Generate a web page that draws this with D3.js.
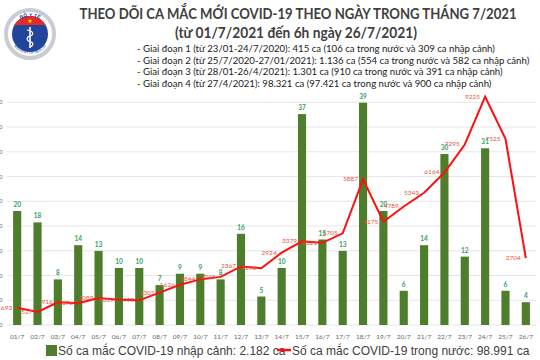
<!DOCTYPE html>
<html><head><meta charset="utf-8">
<script src="https://cdn.jsdelivr.net/npm/d3@7"></script>
<style>body{margin:0;background:#fff;} svg{display:block;}</style>
</head><body><svg id="c" width="540" height="360"></svg>
<script>
const days = ["01/7","02/7","03/7","04/7","05/7","06/7","07/7","08/7","09/7","10/7","11/7","12/7","13/7","14/7","15/7","16/7","17/7","18/7","19/7","20/7","21/7","22/7","23/7","24/7","25/7","26/7"];
const imported = [20,18,8,14,13,10,10,7,9,9,8,16,5,10,37,15,13,39,20,6,14,30,12,31,6,4];
const domestic = [693,527,916,876,1089,1019,997,1307,1626,1844,1945,2367,2296,2924,3379,3321,3705,5887,4175,4789,5343,6164,7295,9225,7525,2704];
const gridTicks = [0,1000,2000,3000,4000,5000,6000,7000,8000,9000];
const titleLines = ["THEO DÕI CA MẮC MỚI COVID-19 THEO NGÀY TRONG THÁNG 7/2021","(từ 01/7/2021 đến 6h ngày 26/7/2021)"];
const phaseLines = [
 "- Giai đoạn 1 (từ 23/01-24/7/2020): 415 ca (106 ca trong nước và 309 ca nhập cảnh)",
 "- Giai đoạn 2 (từ 25/7/2020-27/01/2021): 1.136 ca (554 ca trong nước và 582 ca nhập cảnh)",
 "- Giai đoạn 3 (từ 28/01-26/4/2021): 1.301 ca (910 ca trong nước và 391 ca nhập cảnh)",
 "- Giai đoạn 4 (từ 27/4/2021): 98.321 ca (97.421 ca trong nước và 900 ca nhập cảnh)"];
const legendLabels = ["Số ca mắc COVID-19 nhập cảnh: 2.182 ca","Số ca mắc COVID-19 trong nước: 98.991 ca"];

const svg = d3.select("#c");
const green = "#4e7d2b", red = "#ff1010", lblGreen = "#2fa35f", lblRed = "#e8553c";

const x = d3.scaleBand().domain(days).range([7,536]).paddingInner(0.6).paddingOuter(0.3);
const yLine = d3.scaleLinear().domain([0,9000]).range([325,102.3]);
const yBar = d3.scaleLinear().domain([0,39]).range([325,102.7]);
const cx = d => x(d) + x.bandwidth()/2;

// gridlines
svg.append("g").selectAll("line").data(gridTicks).join("line")
  .attr("x1",7).attr("x2",536).attr("y1",d=>yLine(d)).attr("y2",d=>yLine(d))
  .attr("stroke","#e6e6e6").attr("stroke-width",1);
// cut-off tick labels at left edge
svg.append("g").selectAll("text").data(gridTicks).join("text")
  .attr("x",2.5).attr("y",d=>yLine(d)).attr("dy","0.35em").attr("text-anchor","end")
  .attr("font-family","Liberation Sans, Arial").attr("font-size",6).attr("fill","#777").text(d=>d);

// bars
svg.append("g").selectAll("rect").data(imported).join("rect")
  .attr("x",(d,i)=>x(days[i])).attr("width",x.bandwidth())
  .attr("y",d=>yBar(d)).attr("height",d=>yBar(0)-yBar(d)).attr("fill",green);
svg.append("g").selectAll("text").data(imported).join("text")
  .attr("x",(d,i)=>cx(days[i])).attr("y",d=>yBar(d)-4).attr("text-anchor","middle")
  .attr("font-family","Lato, Liberation Sans").attr("font-size",6.5).attr("font-weight","bold")
  .attr("fill",lblGreen).text(d=>d);

// line
const line = d3.line().x((d,i)=>cx(days[i])).y(d=>yLine(d));
svg.append("path").datum(domestic).attr("d",line).attr("fill","none")
  .attr("stroke",red).attr("stroke-width",2).attr("stroke-linejoin","miter");
svg.append("g").selectAll("text").data(domestic).join("text")
  .attr("x",(d,i)=>cx(days[i])-5).attr("y",d=>yLine(d)).attr("dy","0.3em").attr("text-anchor","end")
  .attr("font-family","Lato, Liberation Sans").attr("font-size",6.5)
  .attr("fill",lblRed).text(d=>d);

// x axis labels
svg.append("g").selectAll("text").data(days).join("text")
  .attr("x",d=>cx(d)).attr("y",339).attr("text-anchor","middle")
  .attr("font-family","Lato, Liberation Sans").attr("font-size",6.5).attr("fill","#666").text(d=>d);

// titles
svg.append("text").attr("x",298).attr("y",19).attr("text-anchor","middle")
  .attr("font-family","Lato").attr("font-weight","bold").attr("font-size",15.5)
  .attr("fill","#404040").attr("textLength",437).attr("lengthAdjust","spacingAndGlyphs").text(titleLines[0]);
svg.append("text").attr("x",296).attr("y",38).attr("text-anchor","middle")
  .attr("font-family","Lato").attr("font-weight","bold").attr("font-size",15.5)
  .attr("fill","#404040").attr("textLength",242).attr("lengthAdjust","spacingAndGlyphs").text(titleLines[1]);
svg.append("g").selectAll("text").data(phaseLines).join("text")
  .attr("x",137).attr("y",(d,i)=>52+i*11.5)
  .attr("font-family","Lato").attr("font-size",9.6).attr("fill","#1a1a1a").text(d=>d);

// legend
svg.append("rect").attr("x",46).attr("y",345).attr("width",11).attr("height",11).attr("fill",green);
svg.append("text").attr("x",58).attr("y",355).attr("font-family","Liberation Sans, Arial")
  .attr("font-size",12).attr("fill","#404040").text(legendLabels[0]);
svg.append("line").attr("x1",277).attr("x2",291).attr("y1",350).attr("y2",350).attr("stroke",red).attr("stroke-width",2.5);
svg.append("text").attr("x",292).attr("y",355).attr("font-family","Liberation Sans, Arial")
  .attr("font-size",12).attr("fill","#404040").text(legendLabels[1]);

// logo
const lg = svg.append("g").attr("transform","translate(30,34)");
lg.append("circle").attr("r",24).attr("fill","#fff").attr("stroke","#c9ccd6").attr("stroke-width",4);
lg.append("defs").append("clipPath").attr("id","lc").append("circle").attr("r",18);
lg.append("circle").attr("r",18).attr("fill","#21459a");
lg.append("rect").attr("x",-20).attr("y",-20).attr("width",40).attr("height",11).attr("fill","#e52a2a").attr("clip-path","url(#lc)");
lg.append("path").attr("d",d3.symbol(d3.symbolStar,8)()).attr("transform","translate(0,-13)").attr("fill","#ffd700");
lg.append("line").attr("x1",0).attr("x2",0).attr("y1",-7).attr("y2",14).attr("stroke","#fff").attr("stroke-width",1.6);
lg.append("path").attr("d","M-3,-4 C4,-3 4,1 0,2 C-4,3 -4,7 1,8 C4,9 3,12 0,13").attr("fill","none").attr("stroke","#fff").attr("stroke-width",1.2);
lg.append("path").attr("id","arcTop").attr("d","M-15,-10 A19,19 0 0,1 15,-10").attr("fill","none");
lg.append("text").attr("font-size",5).attr("font-weight","bold").attr("fill","#21459a").attr("font-family","Liberation Sans")
  .append("textPath").attr("href","#arcTop").attr("startOffset","50%").attr("text-anchor","middle").text("BỘ Y TẾ");
lg.append("path").attr("id","arcBot").attr("d","M-20,4 A20.5,20.5 0 0,0 20,4").attr("fill","none");
lg.append("text").attr("font-size",3.5).attr("fill","#21459a").attr("font-family","Liberation Sans")
  .append("textPath").attr("href","#arcBot").attr("startOffset","50%").attr("text-anchor","middle").attr("dy",3).text("MINISTRY OF HEALTH");
</script></body></html>
